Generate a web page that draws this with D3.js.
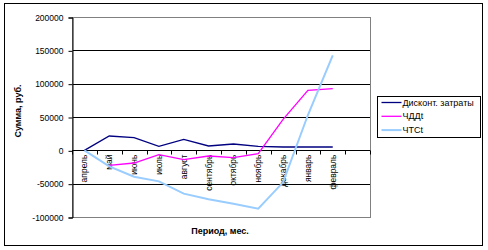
<!DOCTYPE html>
<html lang="ru">
<head>
    <meta charset="UTF-8">
    <script src="https://cdn.jsdelivr.net/npm/d3@7"></script>
    <title>Chart</title>
    <style>
        * { margin: 0; padding: 0; box-sizing: border-box; }
        body { background: white; }
        svg { display: block; font-family: Arial, "Liberation Sans", sans-serif; }
    </style>
</head>
<body>
    <svg width="488" height="250"></svg>
    <script>
        // months (last band is empty, as in the original)
        let months = ['апрель', 'май', 'июнь', 'июль', 'август', 'сентябрь', 'октябрь', 'ноябрь', 'декабрь', 'январь', 'февраль', '']
        let costs = [0, 21500, 19000, 6000, 16500, 6500, 9500, 6000, 5000, 5000, 5000]
        let npv = [null, -22500, -19000, -6500, -14000, -8500, -11000, -5000, 46500, 90000, 92500]
        let cash = [0, -24000, -39500, -46500, -65000, -73500, -80000, -87500, -48000, 53000, 142500]
        let yTicks = [-100000, -50000, 0, 50000, 100000, 150000, 200000]

        let series = [
            { name: 'Дисконт. затраты', values: costs, color: '#000080', width: 1.3 },
            { name: 'ЧДДt', values: npv, color: '#ff00ff', width: 1.3 },
            { name: 'ЧТСt', values: cash, color: '#99ccff', width: 2 }
        ]

        let svg = d3.select('svg')

        // outer frame
        svg.append('rect')
            .attr('x', 4.5).attr('y', 3.5)
            .attr('width', 478).attr('height', 242)
            .attr('fill', 'white').attr('stroke', 'black').attr('stroke-width', 1)

        let plotL = 72, plotR = 370, plotT = 17, plotB = 217

        let x = d3.scaleBand()
            .domain(months.map((d, i) => i))
            .range([plotL, plotR])
            .padding(0)

        let y = d3.scaleLinear()
            .domain([-100000, 200000])
            .range([plotB, plotT])

        // gridlines
        svg.append('g')
            .selectAll('line')
            .data(yTicks)
            .join('line')
            .attr('x1', plotL).attr('x2', plotR)
            .attr('y1', d => Math.round(y(d)) + 0.5)
            .attr('y2', d => Math.round(y(d)) + 0.5)
            .attr('stroke', 'black')

        // plot border
        svg.append('rect')
            .attr('x', plotL + 0.5).attr('y', plotT + 0.5)
            .attr('width', plotR - plotL).attr('height', plotB - plotT)
            .attr('fill', 'none').attr('stroke', '#808080')

        // y axis
        let yAxis = d3.axisLeft(y)
            .tickValues(yTicks)
            .tickSize(4)
            .tickPadding(5)
            .tickFormat(d => d)

        svg.append('g')
            .attr('transform', `translate(${plotL + 0.5}, 0.5)`)
            .call(yAxis)
            .call(g => g.selectAll('text').attr('font-size', 8.5).attr('fill', 'black').attr('font-family', 'Arial, "Liberation Sans", sans-serif'))
            .call(g => g.select('.domain').attr('stroke', 'black'))

        // x axis on zero line
        let zeroY = Math.round(y(0)) + 0.5
        let xg = svg.append('g')
        xg.append('line')
            .attr('x1', plotL).attr('x2', plotR)
            .attr('y1', zeroY).attr('y2', zeroY)
            .attr('stroke', 'black')
        xg.selectAll('.tick')
            .data(d3.range(months.length + 1))
            .join('line')
            .attr('class', 'tick')
            .attr('x1', i => Math.round(plotL + i * x.bandwidth()) + 0.5)
            .attr('x2', i => Math.round(plotL + i * x.bandwidth()) + 0.5)
            .attr('y1', zeroY).attr('y2', zeroY + 4)
            .attr('stroke', 'black')
        xg.selectAll('text')
            .data(months)
            .join('text')
            .attr('transform', (d, i) => `translate(${x(i) + x.bandwidth() / 2 + 3}, ${zeroY + 4}) rotate(-90)`)
            .attr('text-anchor', 'end')
            .attr('font-size', 8.5)
            .text(d => d)

        // lines
        let line = d3.line()
            .defined(d => d != null)
            .x((d, i) => x(i) + x.bandwidth() / 2)
            .y(d => y(d))

        series.forEach(s => {
            svg.append('path')
                .datum(s.values)
                .attr('d', line)
                .attr('fill', 'none')
                .attr('stroke', s.color)
                .attr('stroke-width', s.width)
        })

        // axis titles
        svg.append('text')
            .attr('transform', 'translate(21, 111) rotate(-90)')
            .attr('text-anchor', 'middle')
            .attr('font-size', 9)
            .attr('font-weight', 'bold')
            .text('Сумма, руб.')

        svg.append('text')
            .attr('x', 220).attr('y', 234)
            .attr('text-anchor', 'middle')
            .attr('font-size', 9)
            .attr('font-weight', 'bold')
            .text('Период, мес.')

        // legend
        let legend = svg.append('g').attr('transform', 'translate(377.5, 96.5)')
        legend.append('rect')
            .attr('width', 103).attr('height', 41)
            .attr('fill', 'white').attr('stroke', 'black')
        let item = legend.selectAll('g')
            .data(series)
            .join('g')
            .attr('transform', (d, i) => `translate(0, ${6 + i * 13.8})`)
        item.append('line')
            .attr('x1', 4).attr('x2', 24)
            .attr('stroke', d => d.color)
            .attr('stroke-width', d => d.width)
        item.append('text')
            .attr('x', 25).attr('y', 3)
            .attr('font-size', 9)
            .text(d => d.name)
    </script>
</body>
</html>
